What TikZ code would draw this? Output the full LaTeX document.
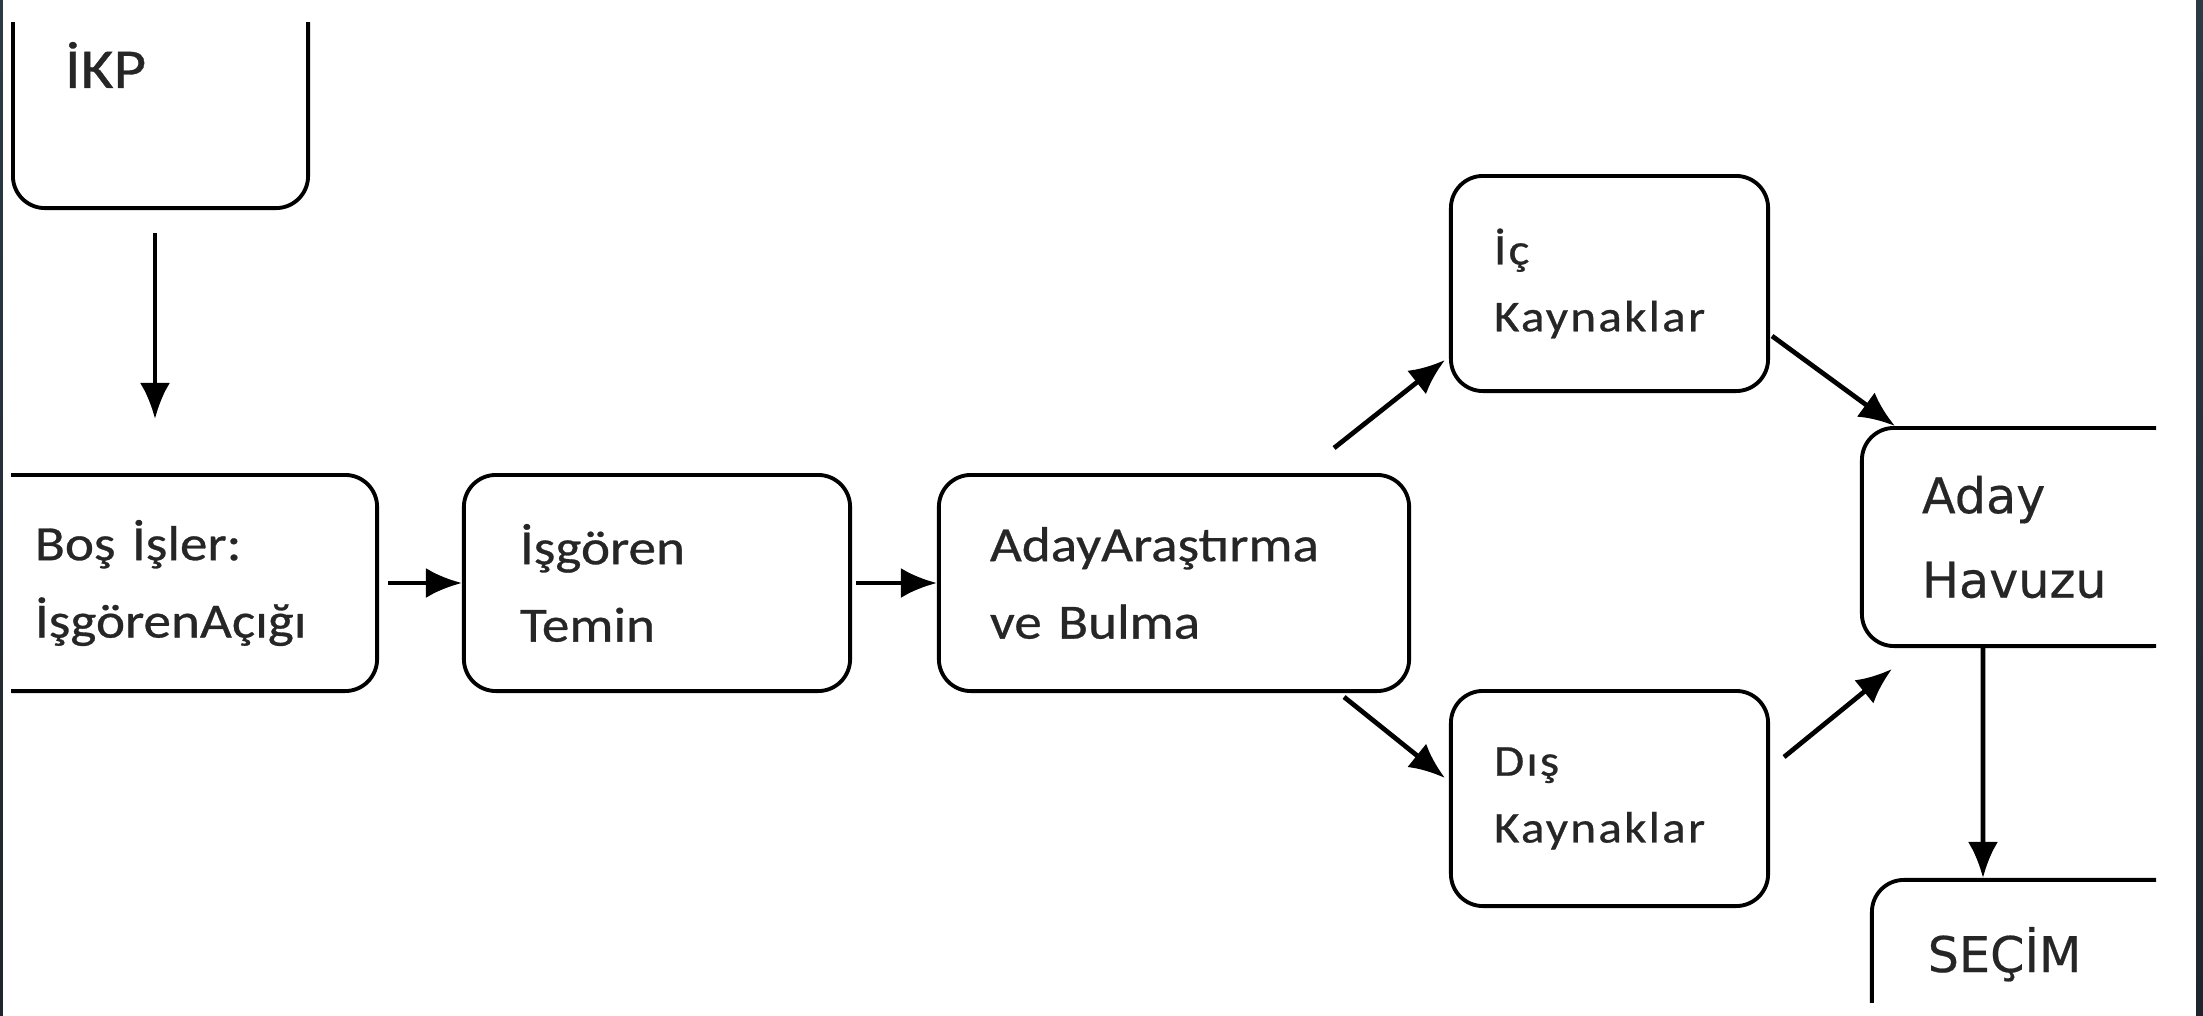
\documentclass[tikz,border=0pt]{standalone}
\usepackage{fontspec}
\setmainfont{Carlito}[FakeStretch=1.12, FakeBold=0.6]
\newfontfamily\havuzfont{DejaVu Sans}[FakeBold=0.4]
\usetikzlibrary{arrows.meta}
\definecolor{stripdark}{RGB}{44,58,70}
\definecolor{stripdeep}{RGB}{30,37,44}
\definecolor{inkgray}{RGB}{38,38,38}
\tikzset{
  kutu/.style={draw, line width=1.1pt, rounded corners=0.32cm, align=left,
    inner ysep=0pt, text=inkgray, font=\fontsize{14}{22}\selectfont},
  kucuk/.style={font=\fontsize{12.5}{19}\selectfont\addfontfeature{LetterSpace=5}},
  ok/.style={-{Latex[length=0.36cm,width=0.3cm]}, line width=1.35pt},
}
\begin{document}
\begin{tikzpicture}[x=0.01cm, y=-0.01cm]
      \useasboundingbox (0,0) rectangle (2203,1015);
      \fill[white] (0,0) rectangle (2203,1015);
      %
      \begin{scope}
      \clip (11,22) rectangle (2156,1002);   % cut edges
      %
      \node[kutu, font=\fontsize{16}{22}\selectfont, minimum width=2.95cm, minimum height=2.86cm,
        text width=1.91cm, inner xsep=0.52cm] (ikp) at (160.5,65) {İKP};
      %
      \node[kutu, minimum width=3.97cm, minimum height=2.16cm, text width=2.87cm,
        inner xsep=0.55cm] (bos) at (178.5,583) {Boş İşler:\\İşgörenAçığı};   % first row
      \node[kutu, minimum width=3.86cm, minimum height=2.16cm, text width=2.74cm,
        inner xsep=0.56cm] (isgoren) at (657,583) {İşgören\\Temin};
      \node[kutu, minimum width=4.70cm, minimum height=2.16cm, text width=3.68cm,
        inner xsep=0.51cm] (adayar) at (1174,583) {AdayAraştırma\\ve Bulma};
      %
      \node[kutu, kucuk, minimum width=3.17cm, minimum height=2.15cm, text width=2.31cm,
        inner xsep=0.43cm] (ic) at (1609.5,283.5) {İç\\Kaynaklar};            % upper branch
      \node[kutu, kucuk, minimum width=3.17cm, minimum height=2.15cm, text width=2.31cm,
        inner xsep=0.43cm] (dis) at (1609.5,798.5) {Dış\\Kaynaklar};          % lower branch
      %
      \node[kutu, font=\havuzfont\fontsize{14}{24}\selectfont, minimum width=3.23cm,
        minimum height=2.18cm, text width=2.03cm, inner xsep=0.6cm] (havuz) at (2023.5,537) {Aday\\Havuzu};
      \node[kutu, minimum width=3.28cm, minimum height=3cm] (secim) at (2036,1030) {};
      \node[anchor=base west, inner sep=0pt, text=inkgray, font=\havuzfont\fontsize{14}{24}\selectfont]
        (secimyazi) at (1927,972) {SEÇİM};
      %
      \draw[ok, shorten <=0.23cm, shorten >=0.54cm] ([xshift=-0.055cm]ikp.south) -- ([xshift=-0.055cm]ikp.south |- bos.north);
      \draw[ok, shorten <=0.09cm] (bos.east) -- (isgoren.west);
      \draw[ok, shorten <=0.04cm] (isgoren.east) -- (adayar.west);
      \draw[ok] ([shift={(-77,-25)}]adayar.north east) -- ([shift={(-4,-33)}]ic.south west);
      \draw[ok] ([shift={(-67,4)}]adayar.south east) -- ([shift={(-4,89)}]dis.north west);
      \draw[ok] ([shift={(2,-57)}]ic.south east) -- ([shift={(35,0)}]havuz.north west);
      \draw[ok] ([shift={(14,68)}]dis.north east) -- ([shift={(32,21)}]havuz.south west);
      \draw[ok] ([shift={(123,0)}]havuz.south west) -- ([shift={(113,0)}]secim.north west);
      \end{scope}
      %
      \shade[top color=stripdark, bottom color=stripdeep] (0,0) rectangle (3,1015);        % left edge
      \shade[top color=stripdark, bottom color=stripdeep] (2196,0) rectangle (2203,1015);  % right edge
    \end{tikzpicture}
\end{document}
